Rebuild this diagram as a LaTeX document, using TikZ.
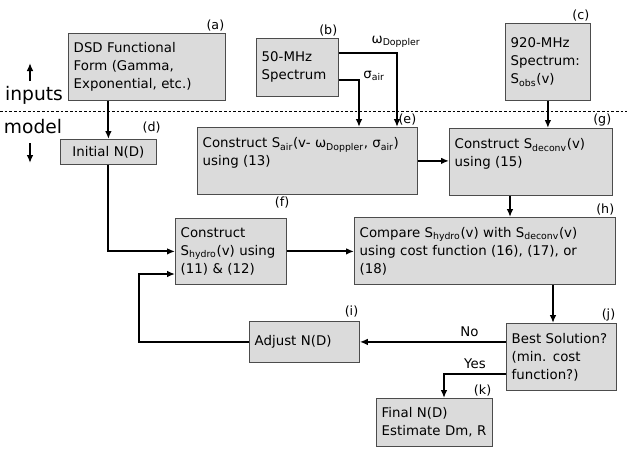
\documentclass[tikz,border=0pt]{standalone}
\usepackage{fontspec}
\setmainfont{DejaVu Sans}
\usetikzlibrary{arrows.meta,positioning}

\newcommand{\sbs}[1]{\textsubscript{#1}}

\tikzset{
  blk/.style={draw=black!70, fill=black!14, line width=0.6pt, anchor=north west,
    align=left, inner xsep=4pt, inner ysep=2pt, font=\fontsize{10}{13.5}\selectfont},
  tag/.style={font=\fontsize{9.5}{11}\selectfont, inner sep=1pt, anchor=south east},
  side/.style={font=\fontsize{14}{16}\selectfont, inner sep=0pt},
  conn/.style={line width=1.5pt, -{Latex[length=6pt,width=5pt]}},
}

\begin{document}
\begin{tikzpicture}[x=0.75pt, y=-0.75pt]

\useasboundingbox (0,0) rectangle (627,451);

% inputs / model split
\draw[thin, dash pattern=on 2pt off 1.5pt] (0,111) -- (627,111);

\node[side] (inputs) at (34,95) {inputs};
\node[side] (model) at (33,127) {model};
\draw[conn] (30,81) -- (30,63);
\draw[conn] (30,143) -- (30,163);

% boxes
\node[blk, text width=109.75pt, minimum height=50.25pt] (a) at (68,33) {DSD Functional\\Form (Gamma,\\Exponential, etc.)};
\node[blk, text width=53.5pt, minimum height=43.5pt] (b) at (256,38) {50-MHz\\Spectrum};
\node[blk, text width=55.75pt, minimum height=57.75pt] (c) at (505,23) {920-MHz\\Spectrum:\\S\sbs{obs}(v)};
\node[blk, align=center, text width=64pt, minimum height=18.75pt] (d) at (60,139) {Initial N(D)};
\node[blk, text width=157pt, minimum height=50.25pt] (e) at (197,127) {Construct S\sbs{air}(v- ω\sbs{Doppler}, σ\sbs{air})\\using (13)\\\mbox{}};
\node[blk, text width=114.25pt, minimum height=50.25pt] (g) at (449,128) {Construct S\sbs{deconv}(v)\\using (15)\\\mbox{}};
\node[blk, text width=75.25pt, minimum height=49.5pt] (f) at (175,218) {Construct\\S\sbs{hydro}(v) using\\(11) \& (12)};
\node[blk, text width=187.75pt, minimum height=50.25pt] (h) at (354,217) {Compare S\sbs{hydro}(v) with S\sbs{deconv}(v)\\using cost function (16), (17), or\\(18)};
\node[blk, text width=74.5pt, minimum height=30.75pt] (i) at (249,321) {Adjust N(D)};
\node[blk, text width=74.5pt, minimum height=50.25pt] (j) at (506,323) {Best Solution?\\(min. cost\\function?)};
\node[blk, text width=79pt, minimum height=36pt] (k) at (376,398) {Final N(D)\\Estimate Dm, R};

% letters
\node[tag] (ta) at (a.north east) {(a)};
\node[tag] (tb) at (b.north east) {(b)};
\node[tag] (tc) at (c.north east) {(c)};
\node[tag, xshift=4pt, yshift=3pt] (td) at (d.north east) {(d)};
\node[tag] (te) at (e.north east) {(e)};
\node[tag] (tg) at (g.north east) {(g)};
\node[tag, xshift=3pt, yshift=6pt] (tf) at (f.north east) {(f)};
\node[tag] (th) at (h.north east) {(h)};
\node[tag, yshift=2pt] (ti) at (i.north east) {(i)};
\node[tag] (tj) at (j.north east) {(j)};
\node[tag] (tk) at (k.north east) {(k)};

% junctions
\coordinate (dop) at (397,53);
\coordinate (sig) at (359,80);
\coordinate (gx) at (510,195);
\coordinate (hx) at (553,284);
\coordinate (yx) at (444,374);
\coordinate (ix) at (139,274);

\node[inner sep=0pt] (doplbl) at (396,42) {ω\sbs{Doppler}};
\node[inner sep=0pt] (siglbl) at (374,76) {σ\sbs{air}};

% connectors
\draw[conn] (a.south -| d.north) -- (d.north);
\draw[conn] (d.south) |- (f.west);
\draw[conn] (b.east |- dop) -- (dop) -- (dop |- e.north);
\draw[conn] (b.east |- sig) -- (sig) -- (sig |- e.north);
\draw[conn] (c.south) -- (c.south |- g.north);
\draw[conn] (e.east) -- (e.east -| g.west);
\draw[conn] (g.south -| gx) -- (h.north -| gx);
\draw[conn] (f.east) -- (f.east -| h.west);
\draw[conn] (h.south -| hx) -- (j.north -| hx);
\draw[conn] (j.west |- i.east) -- node[pos=0.25, above] {No} (i.east);
\draw[conn] (j.west |- yx) -- node[above] {Yes} (yx) -- (yx |- k.north);
\draw[conn] (i.west) -| (ix) -- (ix -| f.west);

\end{tikzpicture}
\end{document}
